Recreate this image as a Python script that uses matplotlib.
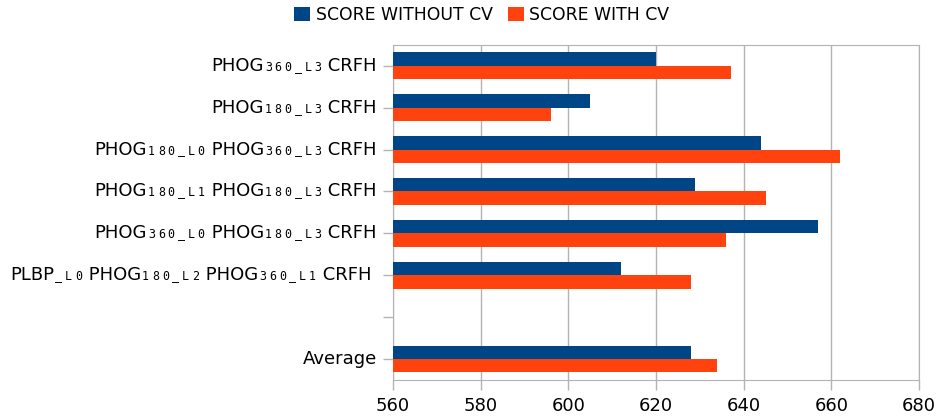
import re
import matplotlib
matplotlib.use('Agg')
import matplotlib.pyplot as plt
from matplotlib.offsetbox import TextArea, HPacker, AnnotationBbox
import numpy as np

plt.rcParams['font.family'] = 'DejaVu Sans'

# text in {} is drawn as the small subscript part
labels = [
    'PHOG{360_L3} CRFH',
    'PHOG{180_L3} CRFH',
    'PHOG{180_L0} PHOG{360_L3} CRFH',
    'PHOG{180_L1} PHOG{180_L3} CRFH',
    'PHOG{360_L0} PHOG{180_L3} CRFH',
    'PLBP{_L0} PHOG{180_L2} PHOG{360_L1} CRFH ',
    '',
    'Average',
]
score_without_cv = [620, 605, 644, 629, 657, 612, np.nan, 628]
score_with_cv = [637, 596, 662, 645, 636, 628, np.nan, 634]

blue = '#004586'
orange = '#ff420e'
grid = '#b3b3b3'


def make_label(s):
    kids = []
    for part in re.split(r'(\{[^}]*\})', s):
        if not part:
            continue
        if part.startswith('{'):
            chars = [TextArea(c, textprops=dict(fontsize=8.4, family='DejaVu Sans Mono'))
                     for c in part[1:-1]]
            kids.append(HPacker(children=chars, sep=2.1, pad=0, align='baseline'))
        else:
            kids.append(TextArea(part, textprops=dict(fontsize=13)))
    return HPacker(children=kids, sep=0.8, pad=0, align='baseline')


fig = plt.figure(figsize=(9.39, 4.2), dpi=100)
ax = fig.add_axes([0.4185, 0.0952, 0.5602, 0.7983])

y = np.arange(len(labels))
h = 0.32
ax.barh(y - h / 2, score_without_cv, height=h, color=blue, label='SCORE WITHOUT CV', zorder=3)
ax.barh(y + h / 2, score_with_cv, height=h, color=orange, label='SCORE WITH CV', zorder=3)

ax.set_xlim(560, 680)
ax.set_xticks(range(560, 681, 20))
ax.set_ylim(len(labels) - 0.5, -0.5)
ax.set_yticks(y)
ax.set_yticklabels([])

for yi, lab in zip(y, labels):
    if not lab:
        continue
    ab = AnnotationBbox(make_label(lab), xy=(0, yi), xycoords=('axes fraction', 'data'),
                        xybox=(-11.5, 0), boxcoords='offset points',
                        box_alignment=(1, 0.5), frameon=False, pad=0,
                        annotation_clip=False)
    ax.add_artist(ab)

ax.grid(axis='x', color=grid, linewidth=1, zorder=0)
for s in ax.spines.values():
    s.set_color(grid)
ax.tick_params(axis='both', colors=grid, labelcolor='black', labelsize=13, length=7, width=1)
ax.tick_params(axis='x', pad=5)

fig.legend(loc='center', bbox_to_anchor=(0.513, 0.964), ncol=2, frameon=False,
           fontsize=12.4, handlelength=0.95, handleheight=0.85, handletextpad=0.3,
           columnspacing=0.9)

fig.savefig('out.png', dpi=100)
